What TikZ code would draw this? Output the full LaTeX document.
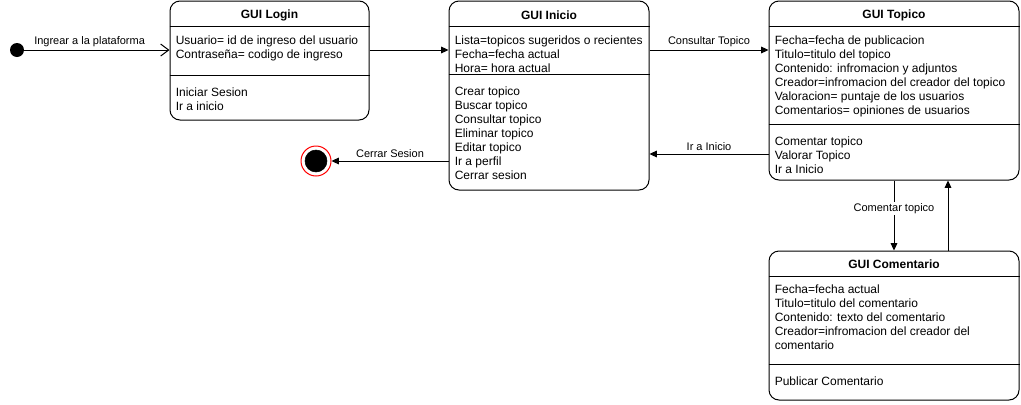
\documentclass[tikz,border=0pt]{standalone}
\usepackage{fontspec}
\setmainfont{Liberation Sans}
\usetikzlibrary{arrows.meta,calc}

\tikzset{
  gui/.style={draw, rounded corners=7.5pt, inner sep=0pt, line width=0.75pt},
  titulo/.style={font=\bfseries\fontsize{9}{10.5}\selectfont, inner sep=0pt},
  campos/.style={anchor=north west, align=left, inner sep=0pt, font=\fontsize{9}{10.5}\selectfont},
  etiqueta/.style={font=\fontsize{8.25}{9.5}\selectfont, inner sep=1pt},
  flecha/.style={-{Triangle[length=5.5pt,width=5pt]}, line width=0.75pt},
}

\begin{document}
\begin{tikzpicture}[x=0.75pt,y=-0.75pt]
  \useasboundingbox (0,0) rectangle (1021,404);

  % Estados de la interfaz
  \node[gui, minimum width=149.25pt, minimum height=89.25pt] (login) at (269.5,60.5) {};
  \node[gui, minimum width=150pt, minimum height=141.75pt] (inicio) at (549,95.5) {};
  \node[gui, minimum width=187.5pt, minimum height=134.25pt] (topico) at (894,90.5) {};
  \node[gui, minimum width=187.5pt, minimum height=111.75pt] (comentario) at (894,325.5) {};

  % Separadores de compartimentos
  \draw[line width=0.75pt] (login.west |- 0,26) -- (login.east |- 0,26);
  \draw[line width=0.75pt] (login.west |- 0,75) -- (login.east |- 0,75);
  \draw[line width=0.75pt] (inicio.west |- 0,26) -- (inicio.east |- 0,26);
  \draw[line width=0.75pt] (inicio.west |- 0,74) -- (inicio.east |- 0,74);
  \draw[line width=0.75pt] (topico.west |- 0,26) -- (topico.east |- 0,26);
  \draw[line width=0.75pt] (topico.west |- 0,124) -- (topico.east |- 0,124);
  \draw[line width=0.75pt] (comentario.west |- 0,276) -- (comentario.east |- 0,276);
  \draw[line width=0.75pt] (comentario.west |- 0,364) -- (comentario.east |- 0,364);

  % Titulos
  \node[titulo] (tlogin) at ($(login.north)+(0,14.5)$) {GUI Login};
  \node[titulo] (tinicio) at ($(inicio.north)+(0,14.5)$) {GUI Inicio};
  \node[titulo] (ttopico) at ($(topico.north)+(0,14.5)$) {GUI Topico};
  \node[titulo] (tcomentario) at ($(comentario.north)+(0,14)$) {GUI Comentario};

  % Atributos y acciones
  \node[campos] (alogin) at ($(login.north west)+(6,35.5)$) {Usuario= id de ingreso del usuario\\Contraseña= codigo de ingreso};
  \node[campos] (mlogin) at ($(login.north west)+(6,87)$) {Iniciar Sesion\\Ir a inicio};
  \node[campos] (ainicio) at ($(inicio.north west)+(6,35.5)$) {Lista=topicos sugeridos o recientes\\Fecha=fecha actual\\Hora= hora actual};
  \node[campos] (minicio) at ($(inicio.north west)+(6,86)$) {Crear topico\\Buscar topico\\Consultar topico\\Eliminar topico\\Editar topico\\Ir a perfil\\Cerrar sesion};
  \node[campos] (atopico) at ($(topico.north west)+(6,35.5)$) {Fecha=fecha de publicacion\\Titulo=titulo del topico\\Contenido: infromacion y adjuntos\\Creador=infromacion del creador del topico\\Valoracion= puntaje de los usuarios\\Comentarios= opiniones de usuarios};
  \node[campos] (mtopico) at ($(topico.north west)+(6,136)$) {Comentar topico\\Valorar Topico\\Ir a Inicio};
  \node[campos] (acomentario) at ($(comentario.north west)+(6,34)$) {Fecha=fecha actual\\Titulo=titulo del comentario\\Contenido: texto del comentario\\Creador=infromacion del creador del\\comentario};
  \node[campos] (mcomentario) at ($(comentario.north west)+(6,126)$) {Publicar Comentario};

  % Estado inicial y final
  \node[circle, fill=black, minimum size=10.5pt, inner sep=0pt] (ini) at (17,50) {};
  \node[circle, draw=red, fill=white, line width=0.75pt, minimum size=22.5pt, inner sep=0pt] (fin) at (316,161) {};
  \node[circle, draw=black, fill=black, minimum size=16.5pt, inner sep=0pt] (finint) at (fin) {};

  % Transiciones
  \draw[-{Straight Barb[length=6pt,width=9pt]}, line width=0.75pt] (ini) -- (login.west |- ini)
    node[etiqueta, pos=0.45, above=1pt] {Ingrear a la plataforma};
  \draw[flecha] (login.east |- ini) -- (inicio.west |- ini);
  \draw[flecha] (inicio.east |- ini) -- (topico.west |- ini)
    node[etiqueta, midway, above=1pt] {Consultar Topico};
  \draw[flecha] (topico.west |- 0,154) -- (inicio.east |- 0,154)
    node[etiqueta, midway, above=1pt] {Ir a Inicio};
  \draw[flecha] (inicio.west |- fin) -- (fin)
    node[etiqueta, midway, above=1pt] {Cerrar Sesion};
  \draw[flecha] (topico.south) -- (comentario.north)
    node[etiqueta, pos=0.4, fill=white] {Comentar topico};
  \draw[flecha] ($(comentario.north)+(54,0)$) -- ($(topico.south)+(54,0)$);
\end{tikzpicture}
\end{document}
